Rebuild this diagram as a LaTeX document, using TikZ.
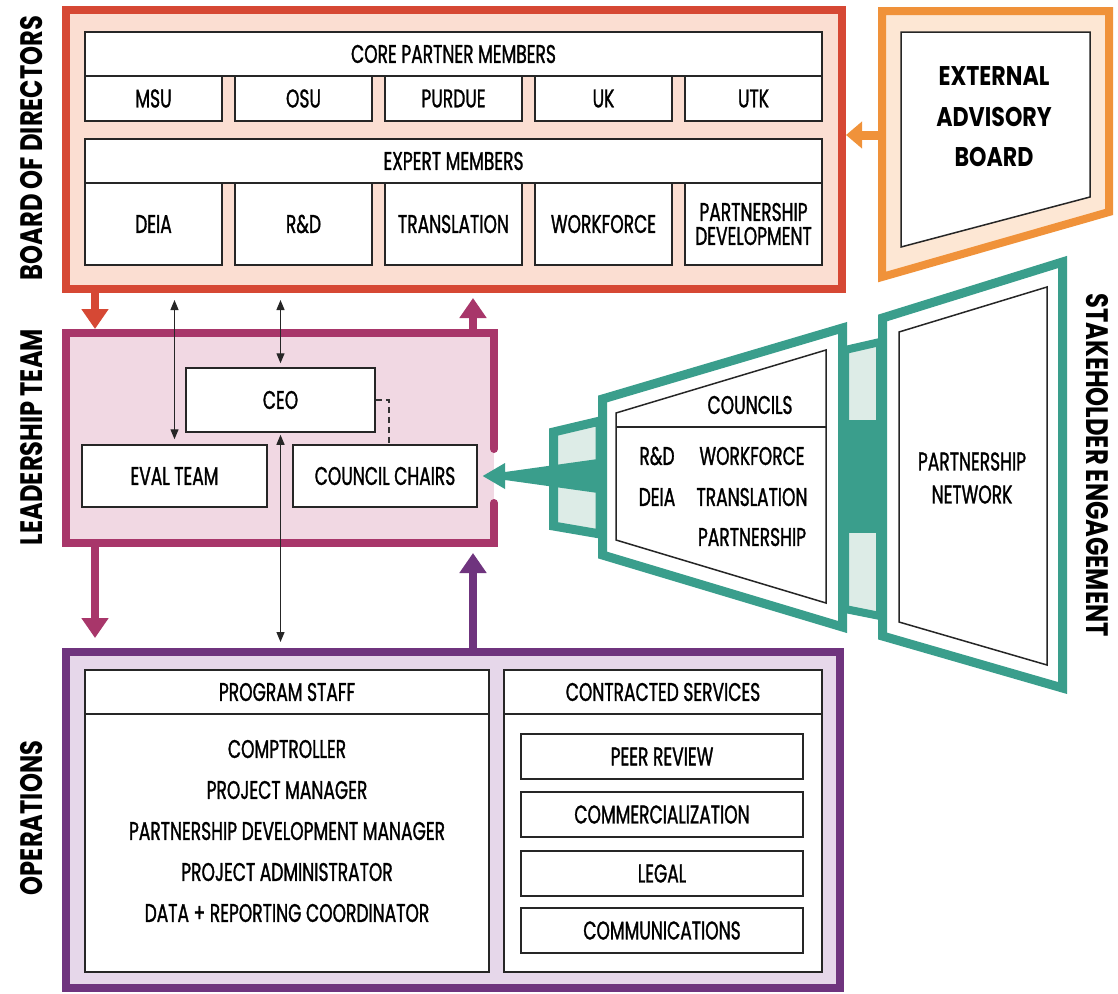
\documentclass[tikz,border=0pt]{standalone}
\usepackage{fontspec}
\setmainfont{Poppins}[FakeStretch=0.67, FakeBold=1.2]
\newfontfamily\sidefont{Poppins}[FakeStretch=0.78]
\newfontfamily\eabfont{Poppins}[FakeStretch=0.82]
\usetikzlibrary{arrows.meta}

\definecolor{bodred}{RGB}{214,72,52}
\definecolor{bodfill}{RGB}{251,222,210}
\definecolor{eaborange}{RGB}{240,146,58}
\definecolor{eabfill}{RGB}{253,231,212}
\definecolor{ltmag}{RGB}{168,54,106}
\definecolor{ltfill}{RGB}{241,216,227}
\definecolor{opspurple}{RGB}{111,52,126}
\definecolor{opsfill}{RGB}{230,215,234}
\definecolor{seteal}{RGB}{58,158,140}
\definecolor{setealfill}{RGB}{221,236,231}

\begin{document}
\begin{tikzpicture}[x=1pt, y=-1pt,
		frame/.style={rectangle, line width=8pt, outer sep=4pt, inner sep=0pt},
		box/.style={rectangle, draw=black!85, line width=1.5pt, fill=white, inner sep=0pt, align=center, font=\fontsize{25.5}{24}\selectfont},
		txt/.style={align=center, font=\fontsize{25.5}{41}\selectfont},
		side/.style={font=\sidefont\bfseries\fontsize{31}{31}\selectfont},
		link/.style={{Triangle[length=10pt,width=8pt]}-{Triangle[length=10pt,width=8pt]}, line width=1.2pt, black!85},
		fat/.style={line width=8pt, -{Triangle[length=20pt,width=26pt]}},
		dashlink/.style={line width=1.2pt, black!80, dash pattern=on 6pt off 4pt},
		tealline/.style={draw=seteal, line width=9pt, line join=miter}]

		\useasboundingbox (0,0) rectangle (1118,993);
		\fill[white] (0,0) rectangle (1118,993);

		\coordinate (lcol) at (95,0);
		\coordinate (rcol) at (473,0);

		% board of directors
		\node[frame, draw=bodred, fill=bodfill, minimum width=776pt, minimum height=279pt] (board) at (454,149.5) {};
		\node[box, minimum width=737pt, minimum height=44pt] (core) at (453.5,54) {CORE PARTNER MEMBERS};
		\node[box, minimum width=137pt, minimum height=45pt] (msu) at (153.5,98.5) {MSU};
		\node[box, minimum width=137pt, minimum height=45pt] (osu) at (303.5,98.5) {OSU};
		\node[box, minimum width=137pt, minimum height=45pt] (purdue) at (453.5,98.5) {PURDUE};
		\node[box, minimum width=137pt, minimum height=45pt] (uk) at (603.5,98.5) {UK};
		\node[box, minimum width=137pt, minimum height=45pt] (utk) at (753.5,98.5) {UTK};
		\node[box, minimum width=737pt, minimum height=44pt] (expert) at (453.5,161) {EXPERT MEMBERS};
		\node[box, minimum width=137pt, minimum height=82pt] (deia) at (153.5,224) {DEIA};
		\node[box, minimum width=137pt, minimum height=82pt] (rnd) at (303.5,224) {R\&D};
		\node[box, minimum width=137pt, minimum height=82pt] (transl) at (453.5,224) {TRANSLATION};
		\node[box, minimum width=137pt, minimum height=82pt] (wforce) at (603.5,224) {WORKFORCE};
		\node[box, minimum width=137pt, minimum height=82pt] (pdev) at (753.5,224) {PARTNERSHIP\\DEVELOPMENT};

		% external advisory board
		\coordinate (eabarr) at (882,135);
		\draw[fat, eaborange, line width=9pt, -{Triangle[length=16pt,width=26pt]}] (eabarr) -- (board.east |- eabarr);
		\filldraw[fill=eabfill, draw=eaborange, line width=8pt, line join=miter] (882,11) -- (1109,11) -- (1109,212) -- (882,277) -- cycle;
		\filldraw[fill=white, draw=black!85, line width=1.5pt] (901,32) -- (1090,32) -- (1090,197) -- (901,247) -- cycle;
		\node[align=center, font=\eabfont\bfseries\fontsize{27}{40.5}\selectfont] (eab) at (994,117) {EXTERNAL\\ADVISORY\\BOARD};

		% leadership team
		\node[frame, fill=ltfill, minimum width=428pt, minimum height=210pt] (lead) at (280,438) {};
		\draw[ltmag, line width=8pt, line cap=round] (494,449) -- (494,333) -- (66,333) -- (66,543) -- (494,543) -- (494,503);
		\node[box, minimum width=189pt, minimum height=64pt] (ceo) at (280.5,400) {CEO};
		\node[box, minimum width=185pt, minimum height=62pt] (eval) at (174.5,476) {EVAL TEAM};
		\node[box, minimum width=184pt, minimum height=62pt] (chairs) at (385,476) {COUNCIL CHAIRS};
		\draw[dashlink] (ceo.east) -| ([xshift=4pt]chairs.north);

		% operations
		\node[frame, draw=opspurple, fill=opsfill, minimum width=774pt, minimum height=336pt] (ops) at (453,820) {};
		\node[box, minimum width=404pt, minimum height=44pt] (pshead) at (287,692) {PROGRAM STAFF};
		\node[box, minimum width=404pt, minimum height=258pt] (psbody) at (287,843) {};
		\node[txt] (pslist) at (287,831) {COMPTROLLER\\PROJECT MANAGER\\PARTNERSHIP DEVELOPMENT MANAGER\\PROJECT ADMINISTRATOR\\DATA + REPORTING COORDINATOR};
		\node[box, minimum width=318pt, minimum height=44pt] (cshead) at (663,692) {CONTRACTED SERVICES};
		\node[box, minimum width=318pt, minimum height=258pt] (csbody) at (663,843) {};
		\node[box, minimum width=282pt, minimum height=45pt] (peer) at (662,756.5) {PEER REVIEW};
		\node[box, minimum width=282pt, minimum height=45pt] (comm) at (662,814.5) {COMMERCIALIZATION};
		\node[box, minimum width=282pt, minimum height=45pt] (legal) at (662,873.5) {LEGAL};
		\node[box, minimum width=282pt, minimum height=45pt] (comms) at (662,930.5) {COMMUNICATIONS};

		% arrows between the levels
		\draw[fat, bodred] (board.south -| lcol) -- (lead.north -| lcol);
		\draw[fat, ltmag, shorten >=5pt] (lead.north -| rcol) -- (board.south -| rcol);
		\draw[fat, ltmag, shorten >=10pt] (lead.south -| lcol) -- (ops.north -| lcol);
		\draw[fat, opspurple, shorten >=6pt] (ops.north -| rcol) -- (lead.south -| rcol);
		\draw[link, shorten <=5pt, shorten >=7pt] (eval.north) -- (board.south -| eval.north);
		\draw[link, shorten <=4pt, shorten >=7pt] (ceo.north) -- (board.south -| ceo.north);
		\draw[link, shorten <=2pt, shorten >=6pt] (ceo.south) -- (ops.north -| ceo.south);

		% stakeholder engagement
		\filldraw[fill=setealfill, tealline] (553.5,432) -- (600,421) -- (600,534) -- (553.5,526) -- cycle;
		\fill[seteal] (598,459) -- (505,472) -- (505,463) -- ([xshift=5pt]chairs.east) -- (505,489) -- (505,480) -- (598,493) -- cycle;
		\filldraw[fill=setealfill, tealline, line width=8pt] (845,350) -- (880,342) -- (880,616) -- (845,609) -- cycle;
		\fill[seteal] (845,420) rectangle (880,533);
		\filldraw[fill=white, tealline] (602.5,399) -- (842.5,328) -- (842.5,627) -- (602.5,555) -- cycle;
		\draw[black!85, line width=1.5pt] (616,413) -- (826,350) -- (826,603) -- (616,540) -- cycle;
		\draw[black!85, line width=1.5pt] (616,427) -- (826,427);
		\node[txt] (councils) at (750,405) {COUNCILS};
		\node[txt] (crnd) at (657,456) {R\&D};
		\node[txt] (cwforce) at (752,456) {WORKFORCE};
		\node[txt] (cdeia) at (657,497) {DEIA};
		\node[txt] (ctransl) at (752,497) {TRANSLATION};
		\node[txt] (cpart) at (752,537) {PARTNERSHIP};
		\filldraw[fill=white, tealline] (882.5,318) -- (1062.5,262) -- (1062.5,688) -- (882.5,636) -- cycle;
		\draw[black!85, line width=1.5pt] (899,332) -- (1047,287) -- (1047,665) -- (899,622) -- cycle;
		\node[align=center, font=\fontsize{25.5}{33}\selectfont] (pnet) at (972,478) {PARTNERSHIP\\NETWORK};

		% side labels
		\node[side, rotate=90] (bodlbl) at (32,148) {BOARD OF DIRECTORS};
		\node[side, rotate=90] (ltlbl) at (32,437) {LEADERSHIP TEAM};
		\node[side, rotate=90] (opslbl) at (32,818) {OPERATIONS};
		\node[side, rotate=-90] (selbl) at (1097,465) {STAKEHOLDER ENGAGEMENT};

\end{tikzpicture}
\end{document}
